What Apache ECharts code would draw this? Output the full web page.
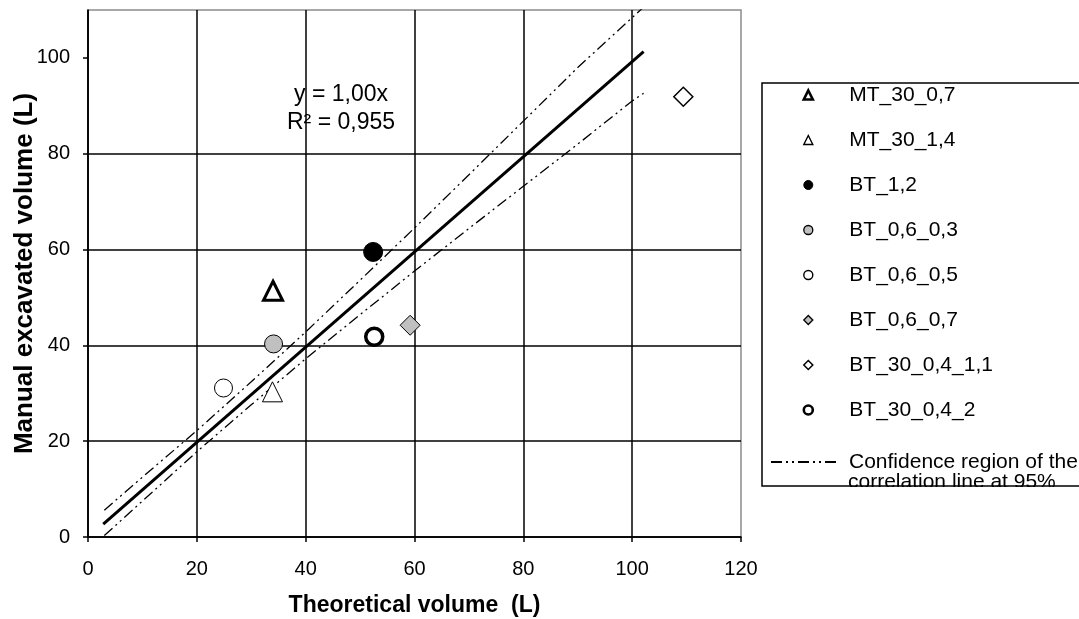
<!DOCTYPE html>
<html><head><meta charset="utf-8">
<script src="https://cdn.jsdelivr.net/npm/echarts@6/dist/echarts.min.js"></script>
<style>html,body{margin:0;padding:0;background:#fff}#c{width:1079px;height:619px}</style>
</head><body><div id="c"></div>
<script>
// ---- data ----
const xTicks = [0, 20, 40, 60, 80, 100, 120];
const yTicks = [0, 20, 40, 60, 80, 100];
const seriesNames = ['MT_30_0,7', 'MT_30_1,4', 'BT_1,2', 'BT_0,6_0,3', 'BT_0,6_0,5', 'BT_0,6_0,7', 'BT_30_0,4_1,1', 'BT_30_0,4_2'];
const theoretical = [34.0, 33.9, 52.4, 34.1, 24.9, 59.2, 109.4, 52.6];
const manual = [51.4, 30.3, 59.5, 40.3, 31.1, 44.2, 91.9, 41.8];
const fitX = [2.8, 102.1];
const fitY = [2.7, 101.3];
const bandX = [3, 10, 20, 30, 40, 50, 60, 70, 80, 90, 100, 102.1];
const bandUpper = [5.6, 12.5, 22.2, 32.4, 42.8, 53.6, 64.5, 75.6, 86.8, 98, 108.4, 110.6];
const bandLower = [0.3, 7.5, 17.8, 27.6, 37.2, 46.4, 55.5, 64.4, 73.2, 82, 91, 92.6];
const confName = 'Confidence region of the correlation line at 95%';
const confLine1 = 'Confidence region of the';
const confLine2 = 'correlation line at 95%';
const equationText = 'y = 1,00x\nR\u00B2 = 0,955';

// ---- styles ----
const FONT = 'Liberation Sans';
const markerStyles = [
  {symbol: 'triangle', size: 19, fill: '#fff', border: '#000', bw: 3, lbw: 2.6},
  {symbol: 'triangle', size: 20, fill: '#fff', border: '#000', bw: 1, lbw: 1.4},
  {symbol: 'circle', size: 19, fill: '#000', border: '#000', bw: 1, lbw: 1},
  {symbol: 'circle', size: 18, fill: '#c0c0c0', border: '#000', bw: 1, lbw: 1.3},
  {symbol: 'circle', size: 18, fill: '#fff', border: '#000', bw: 1, lbw: 1.4},
  {symbol: 'diamond', size: 20, fill: '#c0c0c0', border: '#000', bw: 1, lbw: 1.3},
  {symbol: 'diamond', size: 19, fill: '#fff', border: '#000', bw: 1.5, lbw: 1.5},
  {symbol: 'circle', size: 17, fill: '#fff', border: '#000', bw: 3.5, lbw: 2.6}
];
const dashDotDot = [11, 4, 2, 4, 2, 4];
const bandLine = {color: '#000', width: 1.3, type: dashDotDot};

const series = [];
series.push({
  type: 'line', name: 'fit', data: fitX.map((x, i) => [x, fitY[i]]),
  symbol: 'none', lineStyle: {color: '#000', width: 3}, z: 3, silent: true
});
series.push({
  type: 'line', name: confName, data: bandX.map((x, i) => [x, bandUpper[i]]),
  symbol: 'none', lineStyle: bandLine, itemStyle: {color: '#000'}, z: 3
});
series.push({
  type: 'line', name: confName, data: bandX.map((x, i) => [x, bandLower[i]]),
  symbol: 'none', lineStyle: bandLine, itemStyle: {color: '#000'}, z: 3
});
seriesNames.forEach((n, i) => {
  const s = markerStyles[i];
  series.push({
    type: 'scatter', name: n, data: [[theoretical[i], manual[i]]],
    symbol: s.symbol, symbolSize: s.size, z: 4,
    itemStyle: {color: s.fill, borderColor: s.border, borderWidth: s.bw, opacity: 1}
  });
});

const chart = echarts.init(document.getElementById('c'), null, {renderer: 'canvas'});
chart.setOption({
  animation: false,
  backgroundColor: '#fff',
  grid: {left: 88, right: 338, top: 10, bottom: 82, containLabel: false, outerBoundsMode: 'none',
         show: true, borderColor: '#8c8c8c', borderWidth: 1.5, backgroundColor: 'transparent'},
  xAxis: {
    type: 'value', min: xTicks[0], max: xTicks[xTicks.length - 1], interval: 20,
    axisLine: {show: true, onZero: false, lineStyle: {color: '#000', width: 1.5}},
    axisTick: {show: true, length: 5, lineStyle: {color: '#000', width: 1.5}},
    axisLabel: {margin: 22, fontSize: 20, fontFamily: FONT, color: '#000'},
    splitLine: {show: true, showMaxLine: false, lineStyle: {color: '#000', width: 1.5}},
    name: 'Theoretical volume  (L)', nameLocation: 'middle', nameGap: 57, nameMoveOverlap: false,
    nameTextStyle: {fontWeight: 'bold', fontSize: 23, fontFamily: FONT, color: '#000'}
  },
  yAxis: {
    type: 'value', min: 0, max: 110, interval: 20,
    axisLine: {show: true, onZero: false, lineStyle: {color: '#000', width: 1.5}},
    axisTick: {show: true, length: 5, customValues: yTicks, lineStyle: {color: '#000', width: 1.5}},
    axisLabel: {margin: 18, fontSize: 20, fontFamily: FONT, color: '#000', showMaxLabel: false},
    splitLine: {show: true, showMaxLine: false, lineStyle: {color: '#000', width: 1.5}},
    name: 'Manual excavated volume (L)', nameLocation: 'middle', nameGap: 50, nameMoveOverlap: false,
    nameTextStyle: {fontWeight: 'bold', fontSize: 26, fontFamily: FONT, color: '#000'}
  },
  legend: [{
    orient: 'vertical', left: 802.5, top: 83, padding: 0,
    itemWidth: 9, itemHeight: 9, itemGap: 21, selectedMode: false,
    textStyle: {fontFamily: FONT, fontSize: 21, color: '#000', lineHeight: 24, padding: [0, 0, 0, 31.5]},
    data: seriesNames.map((n, i) => ({name: n, itemStyle: {borderWidth: markerStyles[i].lbw, borderColor: '#000'}}))
  }, {
    orient: 'vertical', left: 770, top: 450, padding: 0,
    itemWidth: 65, itemHeight: 8, selectedMode: false,
    textStyle: {fontFamily: FONT, fontSize: 21, color: '#000', lineHeight: 24, padding: [0, 0, 0, 8]},
    formatter: () => confLine1,
    data: [{name: confName, itemStyle: {color: 'rgba(0,0,0,0)', borderColor: 'rgba(0,0,0,0)', borderWidth: 0}}]
  }],
  graphic: [
    {type: 'text', z: 70, x: 848, y: 482, style: {text: confLine2, fontSize: 21, fontFamily: FONT, fill: '#000', align: 'left', verticalAlign: 'middle'}},
    {type: 'rect', z: 80, shape: {x: 763, y: 487, width: 330, height: 40}, style: {fill: '#fff'}},
    {type: 'rect', z: 90, shape: {x: 762, y: 83, width: 400, height: 403}, style: {fill: null, stroke: '#000', lineWidth: 1.5}},
    {type: 'text', z: 100, x: 341, y: 81, style: {text: equationText, fontSize: 23, fontFamily: FONT, fill: '#000', align: 'center', verticalAlign: 'top', lineHeight: 28}}
  ],
  series: series
});
</script>
</body></html>
